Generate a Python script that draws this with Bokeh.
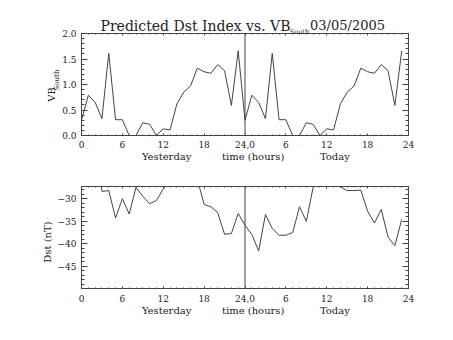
from bokeh.plotting import figure
from bokeh.models import Range1d, FixedTicker, LinearAxis, Span
from bokeh.layouts import column
from bokeh.embed import file_html
from bokeh.resources import INLINE

# ---------------- data ----------------
hours = list(range(48))
vb_yesterday = [0.30, 0.79, 0.65, 0.33, 1.61, 0.31, 0.31, 0.00, 0.00, 0.25, 0.22, 0.00,
                0.13, 0.11, 0.62, 0.85, 0.97, 1.32, 1.25, 1.22, 1.39, 1.27, 0.59, 1.66]
vb_today = [0.30, 0.79, 0.65, 0.33, 1.61, 0.31, 0.31, 0.00, 0.00, 0.25, 0.22, 0.00,
            0.13, 0.11, 0.62, 0.85, 0.97, 1.32, 1.25, 1.22, 1.39, 1.27, 0.59, 1.66]
dst_yesterday = [-22.0, -20.0, -15.0, -28.4, -28.2, -34.3, -30.0, -33.4, -27.5, -29.5, -31.1, -30.4,
                 -27.8, -26.1, -24.0, -23.0, -24.0, -25.6, -31.3, -31.8, -33.1, -37.9, -37.7, -33.3]
dst_today = [-35.9, -37.9, -41.6, -33.5, -36.6, -38.1, -38.1, -37.5, -31.8, -35.0, -27.5, -24.0,
             -24.0, -26.4, -27.4, -28.2, -28.2, -28.1, -32.8, -35.4, -32.4, -38.5, -40.4, -34.6]

x_tick_values = [0, 6, 12, 18, 24, 30, 36, 42, 48]
x_tick_labels = ["0", "6", "12", "18", "24,0", "6", "12", "18", "24"]
vb_tick_values = [0.0, 0.5, 1.0, 1.5, 2.0]
vb_tick_labels = ["0.0", "0.5", "1.0", "1.5", "2.0"]
dst_tick_values = [-45, -40, -35, -30]
dst_tick_labels = ["\u221245", "\u221240", "\u221235", "\u221230"]

title_main = "Predicted Dst Index vs. VB"
title_sub = "South"
title_date = "03/05/2005"
vb_label = "VB"
dst_label = "Dst (nT)"
x_names = ["Yesterday", "time (hours)", "Today"]
x_name_hours = [12.5, 25.2, 37.2]

# ---------------- style / layout ----------------
W, H = 453, 170
FL, FR = 81, 408          # frame left/right (canvas px)
FW = FR - FL
FH = 102
INK = "#444444"
TXT = "#222222"
FONT = "DejaVu Serif"
VB_RANGE = (0.0, 2.0)
DST_RANGE = (-49.9, -27.3)


def hx(px):
    return (px - FL) / FW * 48.0


def make_fig(yr, top):
    p = figure(width=W, height=H, x_range=Range1d(0, 48), y_range=Range1d(*yr),
               output_backend="svg", toolbar_location=None, tools="", title=None,
               min_border_left=FL, min_border_right=W - FR,
               min_border_top=top, min_border_bottom=H - top - FH)
    p.xgrid.visible = False
    p.ygrid.visible = False
    p.outline_line_color = INK
    p.background_fill_color = "white"
    p.border_fill_color = "white"
    p.add_layout(LinearAxis(), "above")
    p.add_layout(LinearAxis(), "right")
    return p


def style_axes(p, yticks, ylabels, yminor, xstand):
    xt = FixedTicker(ticks=x_tick_values, minor_ticks=hours + [48])
    yt = FixedTicker(ticks=yticks, minor_ticks=yminor)
    for ax in p.xaxis:
        ax.ticker = xt
        ax.major_label_overrides = dict(zip(x_tick_values, x_tick_labels))
        ax.major_tick_in = 2
        ax.minor_tick_in = 1
        ax.major_label_standoff = xstand
    for ax in p.yaxis:
        ax.ticker = yt
        ax.major_label_overrides = dict(zip(yticks, ylabels))
        ax.major_tick_in = 6
        ax.minor_tick_in = 3
        ax.major_label_standoff = 5
    for ax in p.xaxis + p.yaxis:
        ax.major_tick_out = 0
        ax.minor_tick_out = 0
        ax.axis_line_color = INK
        ax.major_tick_line_color = INK
        ax.minor_tick_line_color = INK
        ax.major_label_text_font = FONT
        ax.major_label_text_font_size = "9px"
        ax.major_label_text_color = TXT
    for ax in [p.above[0], p.right[0]]:
        ax.major_label_text_font_size = "0px"
        ax.major_label_text_alpha = 0
        ax.major_label_standoff = 0


def text_axis(p, side, positions, labels, size, standoff, vertical=False):
    ax = LinearAxis(ticker=FixedTicker(ticks=positions, minor_ticks=[]),
                    major_label_overrides=dict(zip(positions, labels)),
                    axis_line_color=None, major_tick_line_color=None,
                    minor_tick_line_color=None, major_tick_in=0, major_tick_out=0,
                    minor_tick_in=0, minor_tick_out=0,
                    major_label_text_font=FONT, major_label_text_font_size=size,
                    major_label_text_color=TXT, major_label_standoff=standoff)
    if vertical:
        ax.major_label_orientation = "vertical"
    p.add_layout(ax, side)
    return ax


# ---------------- top panel ----------------
TOP1 = 33
p1 = make_fig(VB_RANGE, TOP1)
style_axes(p1, vb_tick_values, vb_tick_labels, [i / 10 for i in range(21)], 5)
p1.line(hours, vb_yesterday + vb_today, line_color=INK, line_width=1)
p1.add_layout(Span(location=24, dimension="height", line_color=INK, line_width=1))


def ty(py):
    return VB_RANGE[1] - (py - TOP1) / FH * (VB_RANGE[1] - VB_RANGE[0])


# title pieces: subscript just above the frame, main title + date above it
text_axis(p1, "above", [hx(299)], [title_sub], "6.5px", -2)
text_axis(p1, "above", [hx(195)], [title_main], "14px", -9)
text_axis(p1, "above", [hx(347)], [title_date], "13px", -18)
text_axis(p1, "below", x_name_hours, x_names, "10px", 0)
text_axis(p1, "left", [ty(79.5)], [title_sub], "7px", -1, vertical=True)
text_axis(p1, "left", [ty(94)], [vb_label], "10px", -7, vertical=True)

# ---------------- bottom panel ----------------
TOP2 = 16
p2 = make_fig(DST_RANGE, TOP2)
style_axes(p2, dst_tick_values, dst_tick_labels, list(range(-50, -27)), 6)
p2.line(hours, dst_yesterday + dst_today, line_color=INK, line_width=1)
p2.add_layout(Span(location=24, dimension="height", line_color=INK, line_width=1))


def by(py):
    py = py - 170
    return DST_RANGE[1] - (py - TOP2) / FH * (DST_RANGE[1] - DST_RANGE[0])


text_axis(p2, "below", x_name_hours, x_names, "10px", 0)
text_axis(p2, "left", [by(241.5)], [dst_label], "10px", 2, vertical=True)

layout = column(p1, p2, spacing=0)
open("out.html", "w").write(file_html(layout, INLINE))
